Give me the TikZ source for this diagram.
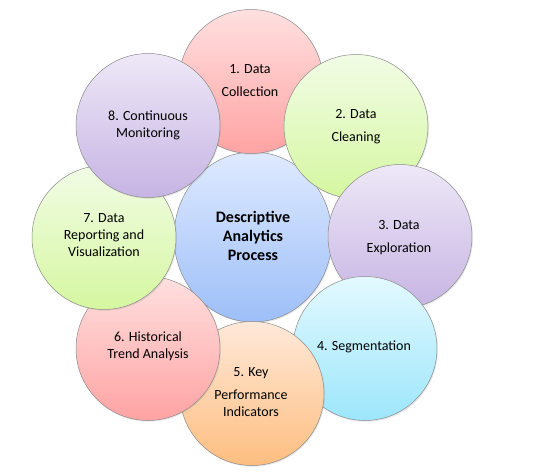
\documentclass[tikz,border=0pt]{standalone}
\usepackage{fontspec}
\setmainfont{Carlito}
\usetikzlibrary{shapes.geometric,shadows}
\definecolor{pinkT}{HTML}{FFE0E0}
\definecolor{pinkB}{HTML}{FFA3A3}
\definecolor{greenT}{HTML}{F2FCE6}
\definecolor{greenB}{HTML}{D5F7A0}
\definecolor{purpT}{HTML}{EEE8F7}
\definecolor{purpB}{HTML}{C6B4E3}
\definecolor{cyanT}{HTML}{E3F9FF}
\definecolor{cyanB}{HTML}{9DE6FB}
\definecolor{peachT}{HTML}{FFE9D9}
\definecolor{peachB}{HTML}{FDBE80}
\definecolor{blueT}{HTML}{DFEAFF}
\definecolor{blueB}{HTML}{9DBFF8}
\definecolor{rim}{HTML}{8A8A8A}
\begin{document}
\begin{tikzpicture}[x=1pt,y=-1pt,
  bubble/.style={circle, minimum size=144pt, inner sep=0pt, draw=rim, line width=0.5pt,
    drop shadow={opacity=0.18, shadow xshift=1pt, shadow yshift=-1.2pt}},
  hub/.style={ellipse, minimum width=158pt, minimum height=170pt, inner sep=0pt, draw=rim, line width=0.5pt,
    drop shadow={opacity=0.18, shadow xshift=1pt, shadow yshift=-1.2pt}},
  pinkfill/.style={top color=pinkT, bottom color=pinkB},
  greenfill/.style={top color=greenT, bottom color=greenB},
  purpfill/.style={top color=purpT, bottom color=purpB},
  cyanfill/.style={top color=cyanT, bottom color=cyanB},
  peachfill/.style={top color=peachT, bottom color=peachB},
  bluefill/.style={top color=blueT, bottom color=blueB},
  lbl/.style={align=center, font=\fontsize{14}{17}\selectfont, text=black, inner sep=0pt},
  hublbl/.style={align=center, font=\fontsize{16}{19}\selectfont\bfseries, text=black, inner sep=0pt}
]
\fill[white] (0,0) rectangle (549,474);
\useasboundingbox (0,0) rectangle (549,474);

\node[hub, bluefill] (c0) at (253,237) {};
\node[bubble, pinkfill]  (c1) at (251,81.5) {};
\node[bubble, greenfill] (c2) at (356,126.5) {};
\node[bubble, purpfill]  (c3) at (400,236.5) {};
\node[bubble, cyanfill]  (c4) at (365,348.5) {};
\node[bubble, peachfill] (c5) at (252,393.5) {};
\node[bubble, pinkfill]  (c6) at (148,348.5) {};
\node[bubble, greenfill] (c7) at (104,237.5) {};
\node[bubble, purpfill]  (c8) at (148,125.5) {};

\node[hublbl] (t0) at (253,236) {Descriptive\\Analytics\\Process};
\node[lbl] (t1) at (250,80.5) {1. Data\\[6pt]Collection};
\node[lbl] (t2) at (356,126.5) {2. Data\\[6pt]Cleaning};
\node[lbl] (t3) at (399,237.5) {3. Data\\[6pt]Exploration};
\node[lbl] (t4) at (364,347) {4. Segmentation};
\node[lbl] (t5) at (251,392.5) {5. Key\\[6pt]Performance\\Indicators};
\node[lbl] (t6) at (148,346.5) {6. Historical\\Trend Analysis};
\node[lbl] (t7) at (104,235.5) {7. Data\\Reporting and\\Visualization};
\node[lbl] (t8) at (148,125) {8. Continuous\\Monitoring};
\end{tikzpicture}
\end{document}
